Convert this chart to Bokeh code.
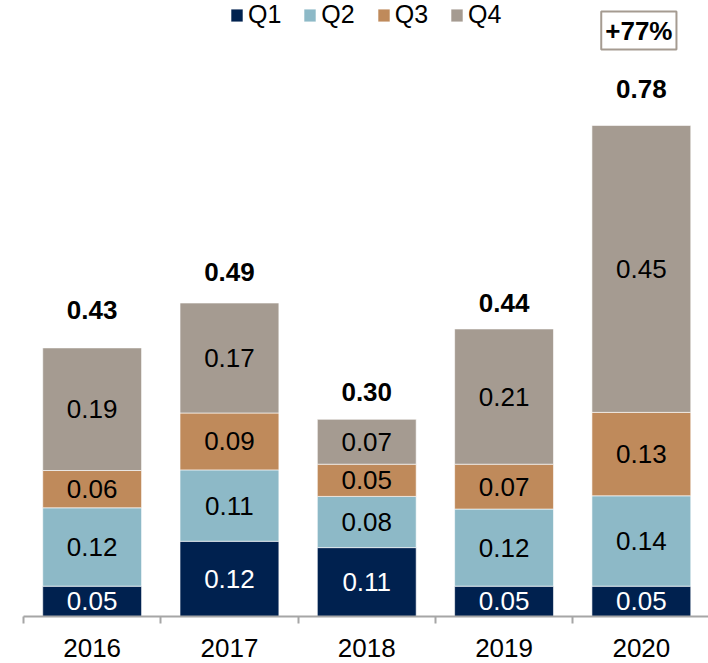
from bokeh.plotting import figure
from bokeh.models import ColumnDataSource, Range1d, FixedTicker, LabelSet, Label
from bokeh.embed import file_html
from bokeh.resources import INLINE
from bokeh.core.properties import value

# ---- data ----
years = ["2016", "2017", "2018", "2019", "2020"]
quarters = ["Q1", "Q2", "Q3", "Q4"]
q1 = [0.048, 0.119, 0.109, 0.048, 0.048]
q2 = [0.124, 0.113, 0.081, 0.122, 0.143]
q3 = [0.059, 0.090, 0.051, 0.071, 0.132]
q4 = [0.194, 0.174, 0.071, 0.214, 0.454]
totals = [0.43, 0.49, 0.30, 0.44, 0.78]
growth_text = "+77%"

colors = ["#00214F", "#8DB9C7", "#BF8A5B", "#A59B91"]
text_colors = ["white", "black", "black", "black"]
FONT = "Liberation Sans"

W, H = 708, 663
BOTTOM = 47
FRAME_H = H - BOTTOM
PX_PER_CAT = 137.3
LEFT0 = 23
PX_PER_UNIT = 632.0

xs = [i + 0.5 for i in range(len(years))]
x_start = -LEFT0 / PX_PER_CAT
x_end = (W - LEFT0) / PX_PER_CAT

p = figure(width=W, height=H, output_backend="svg", toolbar_location=None,
           x_range=Range1d(x_start, x_end), y_range=Range1d(0, FRAME_H / PX_PER_UNIT),
           y_axis_location=None, min_border_left=0, min_border_right=0,
           min_border_top=0, min_border_bottom=BOTTOM)
p.xgrid.visible = False
p.ygrid.visible = False
p.outline_line_color = None
p.background_fill_color = "white"
p.border_fill_color = "white"

src = ColumnDataSource(dict(x=xs, Q1=q1, Q2=q2, Q3=q3, Q4=q4))
p.vbar_stack(quarters, x="x", width=0.72, source=src, color=colors,
             line_color="white", line_width=0.6, legend_label=quarters)

# segment labels
series = [q1, q2, q3, q4]
lx, ly, lt, lc = [], [], [], []
for i in range(len(years)):
    base = 0.0
    for k, s in enumerate(series):
        v = s[i]
        lx.append(xs[i])
        ly.append(base + v / 2)
        lt.append("%.2f" % v)
        lc.append(text_colors[k])
        base += v
seg_src = ColumnDataSource(dict(x=lx, y=ly, text=lt, color=lc))
p.add_layout(LabelSet(x="x", y="y", text="text", source=seg_src, text_color="color",
                      text_align="center", text_baseline="middle",
                      text_font=value(FONT), text_font_size="26px"))

# totals
tot_src = ColumnDataSource(dict(x=xs, y=totals, text=["%.2f" % t for t in totals]))
p.add_layout(LabelSet(x="x", y="y", text="text", source=tot_src, y_offset=35,
                      text_align="center", text_baseline="middle", text_color="black",
                      text_font=value(FONT), text_font_size="26px", text_font_style="bold"))

# growth box
p.add_layout(Label(x=xs[-1], y=FRAME_H - 30, y_units="screen", x_offset=-2.5,
                   text=growth_text, text_align="center", text_baseline="middle",
                   text_font=FONT, text_font_size="26px", text_font_style="bold",
                   text_color="black", border_line_color="#A59B91", border_line_width=2,
                   background_fill_color="white", padding=4))

# x axis: labels at centres, tick marks at category boundaries
ax = p.xaxis[0]
ax.ticker = FixedTicker(ticks=xs, minor_ticks=[0, 1, 2, 3, 4, 5])
ax.major_label_overrides = {x: y for x, y in zip(xs, years)}
ax.bounds = (0, x_end)
ax.axis_line_color = "#A6A6A6"
ax.axis_line_width = 2
ax.minor_tick_line_color = "#A6A6A6"
ax.minor_tick_line_width = 2
ax.minor_tick_in = 0
ax.minor_tick_out = 7
ax.major_tick_line_color = None
ax.major_tick_in = 0
ax.major_tick_out = 0
ax.major_label_standoff = 15
ax.major_label_text_font = FONT
ax.major_label_text_font_size = "26px"
ax.major_label_text_color = "black"

# legend
lg = p.legend[0]
lg.orientation = "horizontal"
lg.location = (229, FRAME_H - 29)
lg.border_line_color = None
lg.background_fill_alpha = 0
lg.padding = 0
lg.margin = 0
lg.spacing = 21
lg.glyph_width = 15
lg.glyph_height = 16
lg.label_standoff = 4
lg.label_text_font = FONT
lg.label_text_font_size = "25px"
lg.label_text_color = "black"

open("out.html", "w").write(file_html(p, INLINE))
